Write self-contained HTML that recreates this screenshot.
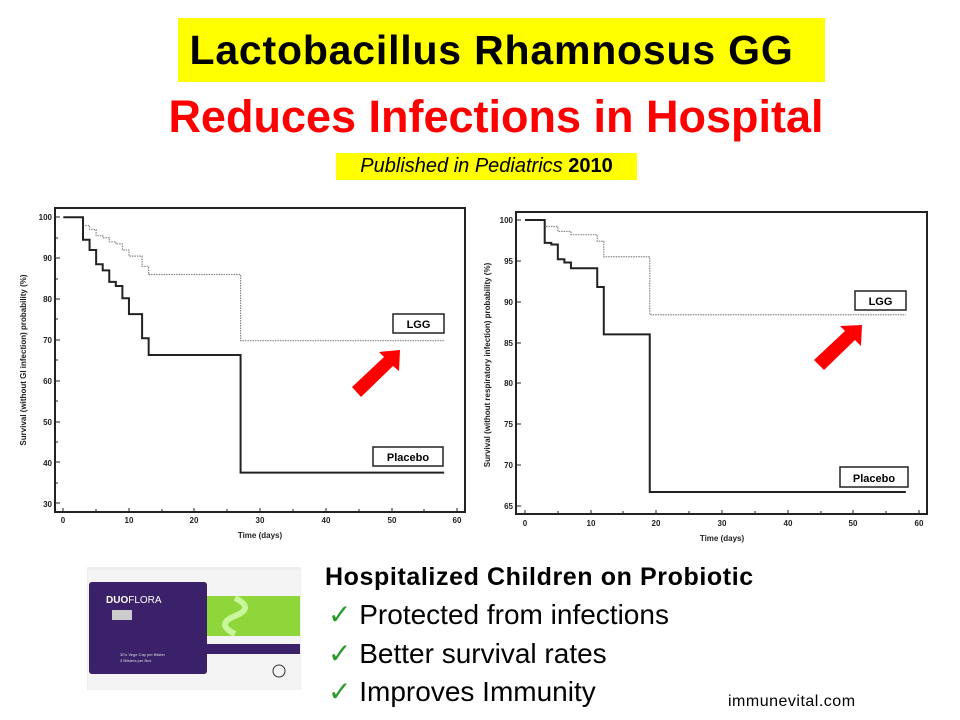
<!DOCTYPE html>
<html><head><meta charset="utf-8"><style>
body{margin:0;width:960px;height:720px;background:#fff;position:relative;overflow:hidden;font-family:"Liberation Sans",sans-serif}
.a{position:absolute;white-space:nowrap}
</style></head><body>
<div class="a" style="left:178px;top:18px;width:647px;height:64px;background:#ffff00"></div>
<div class="a" style="left:168px;top:20px;width:647px;text-align:center;font-size:41px;font-weight:bold;line-height:60px;letter-spacing:0.8px">Lactobacillus Rhamnosus GG</div>
<div class="a" style="left:0;width:992px;top:91px;text-align:center;font-size:45px;font-weight:bold;color:#ff0000;line-height:52px">Reduces Infections in Hospital</div>
<div class="a" style="left:336px;top:153px;width:301px;height:27px;background:#ffff00;font-size:20px;line-height:27px;text-align:center"><i>Published in Pediatrics</i> <b>2010</b></div>

<svg class="a" style="left:0;top:0" width="960" height="720" font-family="Liberation Sans, sans-serif">
<rect x="55" y="208" width="410" height="304" fill="none" stroke="#222" stroke-width="2"/>
<g font-size="8" font-weight="bold" fill="#222" text-anchor="end">
<text x="52" y="220">100</text><text x="52" y="261">90</text><text x="52" y="302">80</text><text x="52" y="343">70</text><text x="52" y="384">60</text><text x="52" y="425">50</text><text x="52" y="466">40</text><text x="52" y="507">30</text></g>
<g font-size="8" font-weight="bold" fill="#222" text-anchor="middle">
<text x="63" y="523">0</text><text x="129" y="523">10</text><text x="194" y="523">20</text><text x="260" y="523">30</text><text x="326" y="523">40</text><text x="392" y="523">50</text><text x="457" y="523">60</text>
<text x="260" y="538">Time (days)</text></g>
<text transform="translate(26,360) rotate(-90)" font-size="8" font-weight="bold" fill="#222" text-anchor="middle">Survival (without GI infection) probability (%)</text>
<g stroke="#222" stroke-width="1">
<path d="M63,512v-4M96,512v-3M129,512v-4M162,512v-3M194,512v-4M227,512v-3M260,512v-4M293,512v-3M326,512v-4M359,512v-3M392,512v-4M424,512v-3M457,512v-4"/>
<path d="M55,217h5M55,238h3M55,258h5M55,279h3M55,299h5M55,319h3M55,340h5M55,360h3M55,381h5M55,401h3M55,422h5M55,442h3M55,462h5M55,483h3M55,503h5"/></g>
<g transform="translate(63.3,217.3) scale(6.566,-4.086) translate(0,-100)" fill="none">
<polyline vector-effect="non-scaling-stroke" stroke="#888" stroke-width="1.2" stroke-dasharray="1.5,1" points="0,100 3,100 3,98 4,98 4,97 5,97 5,95.5 6,95.5 6,95 7,95 7,94 8,94 8,93.5 9,93.5 9,92 10,92 10,90.5 12,90.5 12,88 13,88 13,86 27,86 27,69.8 58,69.8"/>
<polyline vector-effect="non-scaling-stroke" stroke="#222" stroke-width="2" points="0,100 3,100 3,94.5 4,94.5 4,92 5,92 5,88.5 6,88.5 6,87 7,87 7,84.2 8,84.2 8,83.2 9,83.2 9,80.2 10,80.2 10,76.3 12,76.3 12,70.4 13,70.4 13,66.3 27,66.3 27,37.5 58,37.5"/>
</g>
<rect x="393" y="314" width="51" height="19" fill="#fff" stroke="#222" stroke-width="1.5"/>
<text x="418.5" y="328" font-size="11" font-weight="bold" text-anchor="middle">LGG</text>
<rect x="373" y="447" width="70" height="19" fill="#fff" stroke="#222" stroke-width="1.5"/>
<text x="408" y="461" font-size="11" font-weight="bold" text-anchor="middle">Placebo</text>
<polygon points="352,387 384,357 379,352 400,350 399,371 393,366 361,397" fill="#ff0000"/>

<rect x="516" y="212" width="411" height="302" fill="none" stroke="#222" stroke-width="2"/>
<g font-size="8" font-weight="bold" fill="#222" text-anchor="end">
<text x="513" y="223">100</text><text x="513" y="264">95</text><text x="513" y="305">90</text><text x="513" y="346">85</text><text x="513" y="386">80</text><text x="513" y="427">75</text><text x="513" y="468">70</text><text x="513" y="509">65</text></g>
<g font-size="8" font-weight="bold" fill="#222" text-anchor="middle">
<text x="525" y="526">0</text><text x="591" y="526">10</text><text x="656" y="526">20</text><text x="722" y="526">30</text><text x="788" y="526">40</text><text x="853" y="526">50</text><text x="919" y="526">60</text>
<text x="722" y="541">Time (days)</text></g>
<text transform="translate(490,365) rotate(-90)" font-size="8" font-weight="bold" fill="#222" text-anchor="middle">Survival (without respiratory infection) probability (%)</text>
<g stroke="#222" stroke-width="1">
<path d="M525,514v-4M558,514v-3M591,514v-4M623,514v-3M656,514v-4M689,514v-3M722,514v-4M755,514v-3M788,514v-4M821,514v-3M853,514v-4M886,514v-3M919,514v-4"/>
<path d="M516,220h5M516,261h5M516,302h5M516,343h5M516,383h5M516,424h5M516,465h5M516,506h5"/></g>
<g transform="translate(525,220) scale(6.566,-8.17) translate(0,-100)" fill="none">
<polyline vector-effect="non-scaling-stroke" stroke="#888" stroke-width="1.2" stroke-dasharray="1.5,1" points="0,100 3,100 3,99.2 5,99.2 5,98.6 7,98.6 7,98.2 11,98.2 11,97.4 12,97.4 12,95.5 19,95.5 19,88.4 58,88.4"/>
<polyline vector-effect="non-scaling-stroke" stroke="#222" stroke-width="2" points="0,100 3,100 3,97.2 4,97.2 4,97 5,97 5,95.2 6,95.2 6,94.8 7,94.8 7,94.1 11,94.1 11,91.8 12,91.8 12,86 19,86 19,66.7 58,66.7"/>
</g>
<rect x="855" y="291" width="51" height="19" fill="#fff" stroke="#222" stroke-width="1.5"/>
<text x="880.5" y="305" font-size="11" font-weight="bold" text-anchor="middle">LGG</text>
<rect x="840" y="467" width="68" height="20" fill="#fff" stroke="#222" stroke-width="1.5"/>
<text x="874" y="482" font-size="11" font-weight="bold" text-anchor="middle">Placebo</text>
<polygon points="814,360 845,331 840,326 862,325 861,346 855,340 824,370" fill="#ff0000"/>

<rect x="87" y="567" width="214" height="123" fill="#eeeeee"/>
<rect x="88" y="570" width="212" height="120" fill="#f4f4f4"/>
<rect x="89" y="582" width="118" height="92" rx="3" fill="#3a2169"/>
<rect x="207" y="596" width="93" height="40" fill="#8fd63a"/>
<path d="M235,598 q20,10 0,18 q-20,8 0,18" stroke="#c9f59b" stroke-width="6" fill="none"/>
<rect x="207" y="644" width="93" height="10" fill="#3a2169"/>
<text x="106" y="603" font-size="10" font-weight="bold" fill="#fff">DUO<tspan font-weight="normal">FLORA</tspan></text>
<rect x="112" y="610" width="20" height="10" fill="#ccc"/>
<text x="120" y="656" font-size="4" fill="#ddd">30's Vege Cap per Blister</text>
<text x="120" y="662" font-size="4" fill="#ddd">3 Blisters per Box</text>
<circle cx="279" cy="671" r="6" fill="none" stroke="#333"/>
</svg>

<div class="a" style="left:325px;top:563px;font-size:25px;font-weight:bold;letter-spacing:0.6px">Hospitalized Children on Probiotic</div>
<div class="a" style="left:328px;top:598px;font-size:28px"><span style="color:#2a9a2a">✓</span> Protected from infections</div>
<div class="a" style="left:328px;top:637px;font-size:28px"><span style="color:#2a9a2a">✓</span> Better survival rates</div>
<div class="a" style="left:328px;top:675px;font-size:28px"><span style="color:#2a9a2a">✓</span> Improves Immunity</div>
<div class="a" style="left:728px;top:693px;font-size:16px;letter-spacing:0.5px">immunevital.com</div>
</body></html>
